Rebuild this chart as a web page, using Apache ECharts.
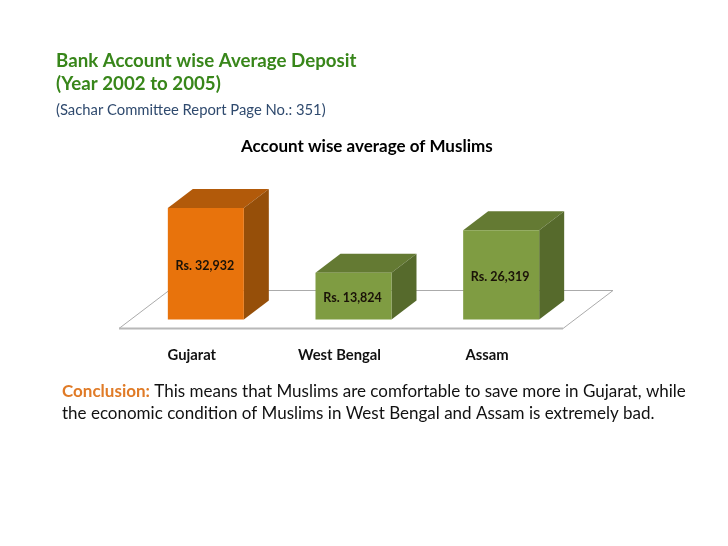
<!DOCTYPE html>
<html><head><meta charset="utf-8">
<style>html,body{margin:0;padding:0;background:#fff}#c{width:728px;height:546px}</style>
<script src="https://cdn.jsdelivr.net/npm/echarts@6/dist/echarts.min.js"></script>
</head><body><div id="c"></div>
<script>
var categories = ['Gujarat', 'West Bengal', 'Assam'];
var deposits = [32932, 13824, 26319];
var barLabels = ['Rs. 32,932', 'Rs. 13,824', 'Rs. 26,319'];
var frontColors = ['#E8730C', '#7F9C42', '#7F9C42'];
var topColors = ['#B25A0A', '#647A33', '#647A33'];
var sideColors = ['#964F09', '#566A2C', '#566A2C'];
var FONT = 'Lato, "Open Sans", sans-serif';
var chart = echarts.init(document.getElementById('c'), null, {renderer: 'canvas'});

var BAR_W = 76, DX = 25, DY = 19;
function renderBar(params, api) {
  var i = api.value(0);
  var p = api.coord([i, api.value(1)]);
  var b = api.coord([i, 0]);
  var l = p[0] - BAR_W / 2, r = l + BAR_W, t = p[1], y0 = b[1];
  return {type: 'group', children: [
    {type: 'polygon', shape: {points: [[l, t], [r, t], [r + DX, t - DY], [l + DX, t - DY]]}, style: {fill: topColors[i]}},
    {type: 'polygon', shape: {points: [[r, t], [r + DX, t - DY], [r + DX, y0 - DY], [r, y0]]}, style: {fill: sideColors[i]}},
    {type: 'rect', shape: {x: l, y: t, width: BAR_W, height: y0 - t}, style: {fill: frontColors[i]}},
    {type: 'text', style: {x: (l + r) / 2 - 1, y: (t + y0) / 2 + 2, text: barLabels[i], align: 'center', verticalAlign: 'middle',
      fill: '#1a1208', font: 'bold 12.5px ' + FONT}}
  ]};
}
function renderFloor(params, api) {
  var cs = params.coordSys;
  var y0 = api.coord([0, 0])[1];
  var L = cs.x, R = cs.x + cs.width;
  var by = y0 + 9, ty = y0 - 29;
  return {type: 'group', children: [
    {type: 'polygon', shape: {points: [[L - 13, by], [R - 12, by], [R + 38, ty], [L + 37, ty]]},
      style: {fill: '#fff', stroke: '#ababab', lineWidth: 1}},
    {type: 'line', shape: {x1: L - 13, y1: by, x2: R - 12, y2: by}, style: {stroke: '#b8b8b8', lineWidth: 2}}
  ]};
}
chart.setOption({
  animation: false,
  backgroundColor: '#fff',
  title: [
    {text: 'Bank Account wise Average Deposit\n(Year 2002 to 2005)', left: 56, top: 49, padding: 0,
      textStyle: {fontFamily: FONT, fontWeight: 'bold', fontSize: 18.7, color: '#38861A', lineHeight: 23}},
    {text: '(Sachar Committee Report Page No.: 351)', left: 56, top: 103, padding: 0,
      textStyle: {fontFamily: FONT, fontWeight: 'normal', fontSize: 14.8, color: '#2F4A6E'}},
    {text: 'Account wise average of Muslims', left: 241, top: 138, padding: 0,
      textStyle: {fontFamily: FONT, fontWeight: 'bold', fontSize: 17, color: '#000'}},
    {text: '{c|Conclusion:} This means that Muslims are comfortable to save more in Gujarat, while\nthe economic condition of Muslims in West Bengal and Assam is extremely bad.', left: 62, top: 381, padding: 0,
      textStyle: {fontFamily: FONT, fontWeight: 'normal', fontSize: 17, color: '#111', lineHeight: 22,
        rich: {c: {fontFamily: FONT, fontWeight: 'bold', fontSize: 17, color: '#E07B27', lineHeight: 22}}}}
  ],
  grid: {left: 132, top: 184, width: 443, height: 135.5, containLabel: false},
  xAxis: {type: 'category', data: categories, axisLine: {show: false}, axisTick: {show: false}, splitLine: {show: false},
    axisLabel: {margin: 28, color: '#111', fontFamily: FONT, fontWeight: 'bold', fontSize: 14.8, padding: [0, 28, 0, 0]}},
  yAxis: {type: 'value', min: 0, max: 40000, show: false, splitLine: {show: false}},
  series: [
    {type: 'custom', renderItem: renderFloor, data: [[0]], silent: true, z: 1, clip: false},
    {type: 'custom', renderItem: renderBar, z: 2, clip: false,
      encode: {x: 0, y: 1},
      data: deposits.map(function (v, i) { return [i, v]; })}
  ]
});
</script></body></html>
